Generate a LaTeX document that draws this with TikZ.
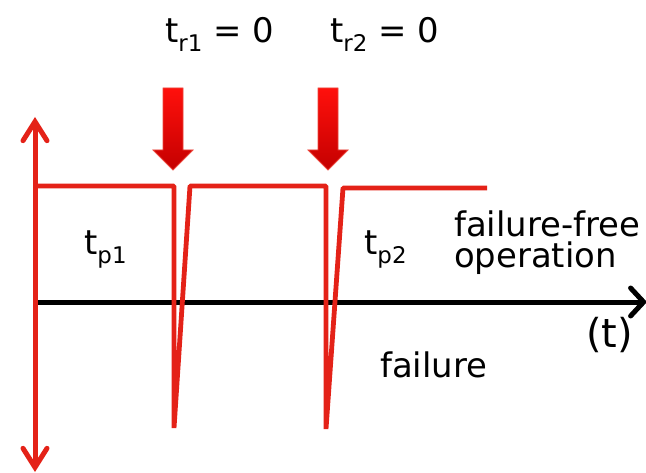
\documentclass[tikz,border=0pt]{standalone}
\usepackage{fontspec}
\setmainfont{DejaVu Sans}
\usetikzlibrary{arrows.meta}
\definecolor{lred}{RGB}{228,34,24}
\definecolor{arrtop}{RGB}{255,16,12}
\definecolor{arrbot}{RGB}{196,0,0}
\newcommand\mysub[1]{\raisebox{-9bp}{\fontsize{23}{23}\selectfont #1}}
\begin{document}
\begin{tikzpicture}[x=1bp,y=-1bp,
  lbl/.style={inner sep=0pt,anchor=base west,font=\fontsize{34}{40}\selectfont},
  raxis/.style={draw=lred,line width=5bp},
  baxis/.style={draw=black,line width=5bp},
  sig/.style={draw=lred,line width=4.8bp,line join=bevel},
  bigarrow/.style={draw={rgb,255:red,235;green,70;blue,60},line width=0.8bp,top color=arrtop,bottom color=arrbot}]
\useasboundingbox (0,0) rectangle (646,473);
% axes
\coordinate (o) at (37,302);
\coordinate (tend) at (647,302);
\coordinate (vtop) at (35,117);
\coordinate (vbot) at (35,472);
\draw[baxis,-{Straight Barb[length=13bp,width=28bp,line cap=round]}] (o) -- (tend);
\draw[raxis,{Straight Barb[length=19bp,width=24bp,line cap=round]}-{Straight Barb[length=19bp,width=24bp,line cap=round]}] (vbot) -- (vtop);
% signal
\draw[sig] (35,186) -- (174,186) -- (174,428) -- (190,186) -- (326,186) -- (326,429) -- (343,188) -- (487,188);
% big arrows
\path[bigarrow] (163,88) -- (183,88) -- (183,150) -- (193,150) -- (173,170) -- (153,150) -- (163,150) -- cycle;
\path[bigarrow] (318,88) -- (338,88) -- (338,150) -- (348,150) -- (328,170) -- (308,150) -- (318,150) -- cycle;
% labels
\node[lbl] (tr1) at (165,43) {t\mysub{r1} = 0};
\node[lbl] (tr2) at (330,43) {t\mysub{r2} = 0};
\node[lbl] (tp1) at (84,255) {t\mysub{p1}};
\node[lbl] (tp2) at (364,255) {t\mysub{p2}};
\node[lbl] (ff) at (454,237) {failure-free};
\node[lbl] (op) at (454,268) {operation};
\node[lbl,font=\fontsize{40}{44}\selectfont] (tt) at (586,347) {(t)};
\node[lbl] (fail) at (380,377) {failure};
\end{tikzpicture}
\end{document}
